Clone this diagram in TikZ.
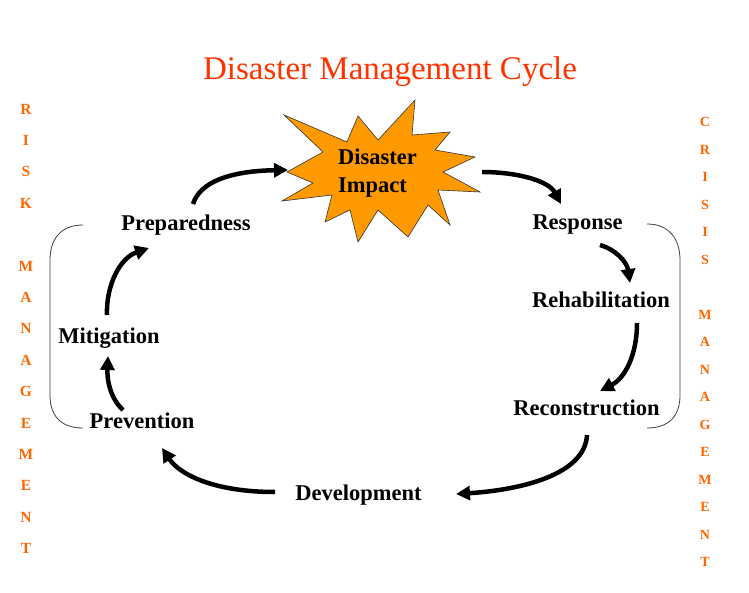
\documentclass[tikz,border=0pt]{standalone}
\usepackage{fontspec}
\setmainfont{Liberation Serif}
\usetikzlibrary{arrows.meta}
\definecolor{titlered}{HTML}{FF3300}
\definecolor{lettorange}{HTML}{FF6600}
\definecolor{starfill}{HTML}{FF9900}
\tikzset{
  phase/.style={font=\bfseries\fontsize{22.5}{27}\selectfont, inner sep=0pt, anchor=base},
  cyc/.style={line width=4.5pt, -{Triangle[length=14pt,width=14pt]}},
  brk/.style={line width=0.8pt, draw=black!75},
  lett/.style={font=\bfseries\fontsize{15.5}{16}\selectfont, text=lettorange, inner sep=0pt},
  rlett/.style={font=\bfseries\fontsize{14}{15}\selectfont, text=lettorange, inner sep=0pt},
}
\begin{document}
\begin{tikzpicture}[x=1pt,y=-1pt]
\useasboundingbox (0,0) rectangle (749,593);
\fill[white] (0,0) rectangle (749,593);
% title
\node[font=\fontsize{33}{36}\selectfont, text=titlered, inner sep=0pt, anchor=base] (title) at (390,80) {Disaster Management Cycle};
% star
\draw[fill=starfill, draw=black!80, line width=0.6pt]
 (284,115) -- (347,142) -- (358,116) -- (378,140) -- (415,100) -- (412,135) -- (450,132) -- (435,150) -- (475,157) -- (443,172) -- (480,192) -- (438,190) -- (450,225) -- (428,205) -- (408,237) -- (378,210) -- (358,242) -- (350,210) -- (325,222) -- (332,195) -- (282,201) -- (313,183) -- (287,172) -- (323,152) -- cycle;
\node[font=\bfseries\fontsize{22.5}{27.5}\selectfont, align=left, inner sep=0pt, anchor=base west] (impact) at (338,192.5) {Disaster\\Impact};
% phases
\node[phase] (prep) at (186,231) {Preparedness};
\node[phase] (miti) at (109,343) {Mitigation};
\node[phase] (prev) at (142,428) {Prevention};
\node[phase] (devel) at (358.5,500) {Development};
\node[phase] (recon) at (586.5,415) {Reconstruction};
\node[phase] (rehab) at (601,308) {Rehabilitation};
\node[phase] (resp) at (577.5,230) {Response};
% arrow ends
\coordinate (a1s) at (193,204); \coordinate (a1e) at (288,170);
\coordinate (a2s) at (482,172); \coordinate (a2e) at (561,204);
\coordinate (a3s) at (600,245); \coordinate (a3e) at (630,283);
\coordinate (a4s) at (637,323); \coordinate (a4e) at (600,391);
\coordinate (a5s) at (587,435); \coordinate (a5e) at (456,494);
\coordinate (a6s) at (275,492); \coordinate (a6e) at (162,448);
\coordinate (a7s) at (123,410); \coordinate (a7e) at (108,356);
\coordinate (a8s) at (107,315); \coordinate (a8e) at (149,248);
\draw[cyc] (a1s) .. controls (200,182) and (230,171) .. (a1e);
\draw[cyc] (a2s) .. controls (515,172) and (548,180) .. (a2e);
\draw[cyc] (a3s) .. controls (615,249) and (627,262) .. (a3e);
\draw[cyc] (a4s) .. controls (637,355) and (625,378) .. (a4e);
\draw[cyc] (a5s) .. controls (585,475) and (520,490) .. (a5e);
\draw[cyc] (a6s) .. controls (215,492) and (180,475) .. (a6e);
\draw[cyc] (a7s) .. controls (110,398) and (107,380) .. (a7e);
\draw[cyc] (a8s) .. controls (106,285) and (120,258) .. (a8e);
% brackets
\coordinate (lb1) at (83,225); \coordinate (lb2) at (83,428);
\coordinate (rb1) at (647,224); \coordinate (rb2) at (647,428);
\draw[brk] (lb1) .. controls (60,225) and (50,240) .. (50,260) -- (50,395) .. controls (50,415) and (60,428) .. (lb2);
\draw[brk] (rb1) .. controls (670,224) and (680,240) .. (680,260) -- (680,395) .. controls (680,415) and (670,428) .. (rb2);
% vertical letters
\foreach \l/\y [count=\i] in {R/109,I/140.4,S/171.8,K/203.2,M/266,A/297.4,N/328.8,A/360.2,G/391.6,E/423,M/454.4,E/485.8,N/517.2,T/548.6}
  \node[lett] (L\i) at (26,\y) {\l};
\foreach \l/\y [count=\i] in {C/122,R/149.5,I/177,S/204.5,I/232,S/259.5,M/314.5,A/342,N/369.5,A/397,G/424.5,E/452,M/479.5,E/507,N/534.5,T/562}
  \node[rlett] (R\i) at (705,\y) {\l};
\end{tikzpicture}
\end{document}
